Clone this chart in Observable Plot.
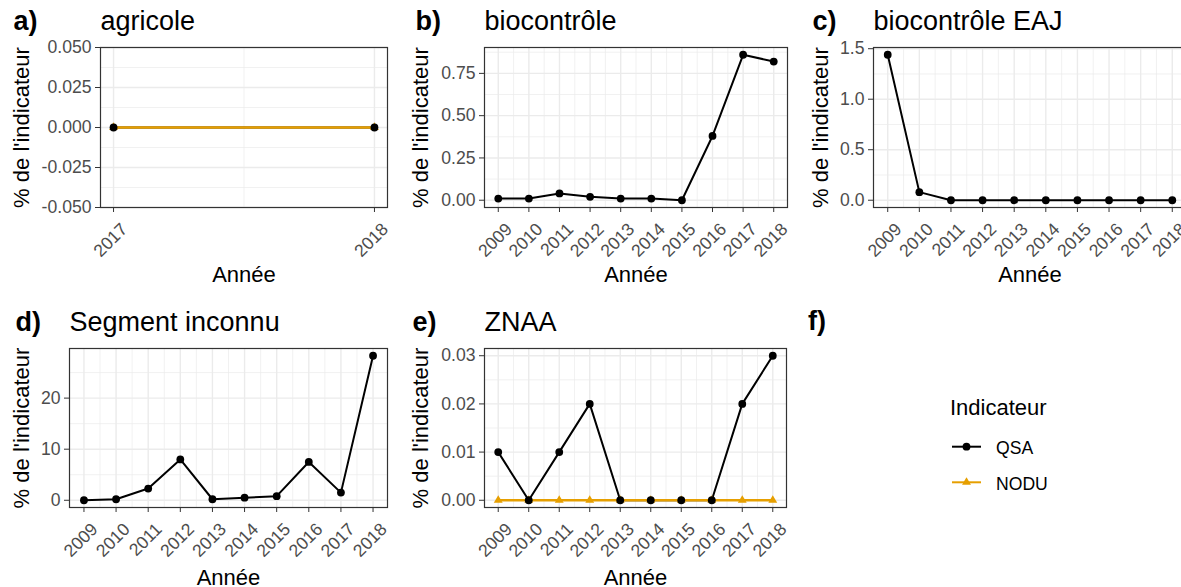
<!DOCTYPE html>
<html>
<head>
<meta charset="utf-8">
<script src="https://cdn.jsdelivr.net/npm/d3@7"></script>
<script src="https://cdn.jsdelivr.net/npm/@observablehq/plot@0.6"></script>
<style>
  html, body { margin: 0; padding: 0; background: #fff; }
  #chart { position: relative; width: 1181px; height: 587px; overflow: hidden; background: #fff; }
  #chart svg { position: absolute; left: 0; top: 0; max-width: none !important; }
</style>
</head>
<body>
<div id="chart"></div>
<script>
// ---------- data ----------
const yearsAll = [2009, 2010, 2011, 2012, 2013, 2014, 2015, 2016, 2017, 2018];
const yearsAgricole = [2017, 2018];

const qsaAgricole = [0, 0];
const noduAgricole = [0, 0];
const qsaBiocontrole = [0.01, 0.01, 0.04, 0.02, 0.01, 0.01, 0.00, 0.38, 0.86, 0.82];
const qsaBiocontroleEAJ = [1.44, 0.08, 0, 0, 0, 0, 0, 0, 0, 0];
const qsaSegmentInconnu = [0, 0.2, 2.3, 8.0, 0.2, 0.5, 0.8, 7.5, 1.5, 28.3];
const qsaZNAA = [0.01, 0, 0.01, 0.02, 0, 0, 0, 0, 0.02, 0.03];
const noduZNAA = [0, 0, 0, 0, 0, 0, 0, 0, 0, 0];

// tick labels / breaks
const yTicksA = [-0.05, -0.025, 0, 0.025, 0.05];
const yMinorA = [-0.0375, -0.0125, 0.0125, 0.0375];
const yTicksB = [0, 0.25, 0.5, 0.75];
const yMinorB = [0.125, 0.375, 0.625, 0.875];
const yTicksC = [0, 0.5, 1.0, 1.5];
const yMinorC = [0.25, 0.75, 1.25];
const yTicksD = [0, 10, 20];
const yMinorD = [5, 15, 25];
const yTicksE = [0, 0.01, 0.02, 0.03];
const yMinorE = [0.005, 0.015, 0.025];
const xMinorAll = [2009.5, 2010.5, 2011.5, 2012.5, 2013.5, 2014.5, 2015.5, 2016.5, 2017.5];
const xMinorAgricole = [2017.5];

const tags = ["a)", "b)", "c)", "d)", "e)", "f)"];
const titles = ["agricole", "biocontrôle", "biocontrôle EAJ", "Segment inconnu", "ZNAA"];
const seriesNames = ["QSA", "NODU"];
const yLabel = "% de l'indicateur";
const xLabel = "Année";
const legendTitle = "Indicateur";

// ---------- style ----------
const W = 1181, H = 587;
const FONT = '"Liberation Sans", Arial, Helvetica, sans-serif';
const COLORS = {QSA: "#000000", NODU: "#E69F00"};
const GRID = "#EBEBEB";
const BORDER = "#333333";
const TICKTEXT = "#4D4D4D";
const LW = 2, DOT_R = 3.9, TRI_R = 3.3;

const chart = document.getElementById("chart");

function panel(cfg) {
  const {L, R, T, B, svgW = W} = cfg;
  const rows = cfg.years.map((yr, i) => ({year: yr, value: cfg.qsa[i], s: "QSA"}));
  const noduRows = cfg.nodu ? cfg.years.map((yr, i) => ({year: yr, value: cfg.nodu[i], s: "NODU"})) : [];
  const vals = cfg.qsa.concat(cfg.nodu || []);
  const lo = d3.min(vals), hi = d3.max(vals);
  let yDomain;
  if (hi === lo) yDomain = [lo - 0.05, hi + 0.05];
  else { const p = (hi - lo) * 0.05; yDomain = [lo - p, hi + p]; }
  const x0 = d3.min(cfg.years), x1 = d3.max(cfg.years);
  const xp = (x1 - x0) * 0.05;
  const xDomain = [x0 - xp, x1 + xp];

  const at = (str, gx, gy, opts) => Plot.text([str], {
    text: d => d, frameAnchor: "top-left", dx: gx - L, dy: gy - T, ...opts
  });

  const marks = [
    Plot.ruleX(cfg.xMinor, {stroke: GRID, strokeWidth: 0.7}),
    Plot.ruleY(cfg.yMinor, {stroke: GRID, strokeWidth: 0.7}),
    Plot.ruleX(cfg.years, {stroke: GRID, strokeWidth: 1.4}),
    Plot.ruleY(cfg.yTicks, {stroke: GRID, strokeWidth: 1.4}),
    Plot.line(rows, {x: "year", y: "value", stroke: COLORS.QSA, strokeWidth: LW}),
  ];
  if (noduRows.length) {
    marks.push(Plot.line(noduRows, {x: "year", y: "value", stroke: COLORS.NODU, strokeWidth: LW + 0.6}));
    marks.push(Plot.dot(noduRows, {x: "year", y: "value", symbol: "triangle", r: TRI_R, fill: COLORS.NODU, stroke: null}));
  }
  marks.push(Plot.dot(rows, {x: "year", y: "value", r: DOT_R, fill: COLORS.QSA, stroke: null}));
  marks.push(Plot.frame({stroke: BORDER, strokeWidth: 1.2}));
  marks.push(Plot.axisY({ticks: cfg.yTicks, tickFormat: cfg.yFormat, tickSize: 5, tickPadding: 4,
    stroke: BORDER, fill: TICKTEXT, fontSize: 17.6, label: null}));
  marks.push(Plot.axisX({ticks: cfg.years, tickSize: 5, stroke: BORDER, fill: null, label: null}));
  marks.push(Plot.text(cfg.years, {x: d => d, text: d => String(d), frameAnchor: "bottom",
    dx: 6, dy: 14, rotate: -45, textAnchor: "end", lineAnchor: "top", fill: TICKTEXT, fontSize: 17.6}));
  // axis titles
  marks.push(at(yLabel, cfg.yLabelX, (T + B) / 2, {rotate: -90, textAnchor: "middle", lineAnchor: "middle", fontSize: 22, fill: "#000"}));
  marks.push(at(xLabel, (L + R) / 2, cfg.xLabelY, {textAnchor: "middle", lineAnchor: "bottom", fontSize: 22, fill: "#000"}));
  // title and tag
  marks.push(at(cfg.title, L, cfg.titleY, {textAnchor: "start", lineAnchor: "bottom", fontSize: 27, fill: "#000"}));
  marks.push(at(cfg.tag, cfg.tagX, cfg.titleY, {textAnchor: "start", lineAnchor: "bottom", fontSize: 27, fontWeight: "bold", fill: "#000"}));

  const svg = Plot.plot({
    width: svgW, height: H,
    marginLeft: L, marginRight: svgW - R, marginTop: T, marginBottom: H - B,
    x: {domain: xDomain},
    y: {domain: yDomain},
    style: {background: "transparent", fontFamily: FONT, overflow: "visible", maxWidth: "none"},
    marks
  });
  svg.style.width = svgW + "px";
  svg.style.height = H + "px";
  chart.appendChild(svg);
}

const f3 = d => d.toFixed(3), f2 = d => d.toFixed(2), f1 = d => d.toFixed(1), f0 = d => d.toFixed(0);

panel({tag: tags[0], title: titles[0], years: yearsAgricole, qsa: qsaAgricole, nodu: noduAgricole,
  L: 100, R: 387, T: 47, B: 207, yTicks: yTicksA, yMinor: yMinorA, xMinor: xMinorAgricole, yFormat: f3,
  yLabelX: 21, xLabelY: 281.5, titleY: 29, tagX: 13});
panel({tag: tags[1], title: titles[1], years: yearsAll, qsa: qsaBiocontrole,
  L: 484, R: 787, T: 47, B: 207, yTicks: yTicksB, yMinor: yMinorB, xMinor: xMinorAll, yFormat: f2,
  yLabelX: 420, xLabelY: 281.5, titleY: 29, tagX: 415});
panel({tag: tags[2], title: titles[2], years: yearsAll, qsa: qsaBiocontroleEAJ, svgW: 1200,
  L: 873, R: 1186, T: 47, B: 207, yTicks: yTicksC, yMinor: yMinorC, xMinor: xMinorAll, yFormat: f1,
  yLabelX: 820, xLabelY: 281.5, titleY: 29, tagX: 812});
panel({tag: tags[3], title: titles[3], years: yearsAll, qsa: qsaSegmentInconnu,
  L: 69, R: 387, T: 348, B: 507, yTicks: yTicksD, yMinor: yMinorD, xMinor: xMinorAll, yFormat: f0,
  yLabelX: 21, xLabelY: 584.5, titleY: 330, tagX: 15});
panel({tag: tags[4], title: titles[4], years: yearsAll, qsa: qsaZNAA, nodu: noduZNAA,
  L: 484, R: 786, T: 348, B: 507, yTicks: yTicksE, yMinor: yMinorE, xMinor: xMinorAll, yFormat: f2,
  yLabelX: 420, xLabelY: 584.5, titleY: 330, tagX: 412});

// ---------- legend panel f) ----------
const lg = d3.select(chart).append("svg")
  .attr("width", W).attr("height", H)
  .style("font-family", FONT);
lg.append("text").attr("x", 808).attr("y", 330).attr("font-size", 27).attr("font-weight", "bold").text(tags[5]);
lg.append("text").attr("x", 950).attr("y", 415).attr("font-size", 22).text(legendTitle);
const keyYs = [446.7, 482.3];
seriesNames.forEach((s, i) => {
  const y = keyYs[i];
  lg.append("line").attr("x1", 952).attr("x2", 981).attr("y1", y).attr("y2", y)
    .attr("stroke", COLORS[s]).attr("stroke-width", LW);
  if (s === "QSA") {
    lg.append("circle").attr("cx", 966.5).attr("cy", y).attr("r", DOT_R).attr("fill", COLORS[s]);
  } else {
    lg.append("path").attr("transform", `translate(966.5,${y})`)
      .attr("d", d3.symbol(d3.symbolTriangle, Math.PI * TRI_R * TRI_R)()).attr("fill", COLORS[s]);
  }
  lg.append("text").attr("x", 996).attr("y", y + 7.5).attr("font-size", 17.6).text(s);
});
</script>
</body>
</html>
